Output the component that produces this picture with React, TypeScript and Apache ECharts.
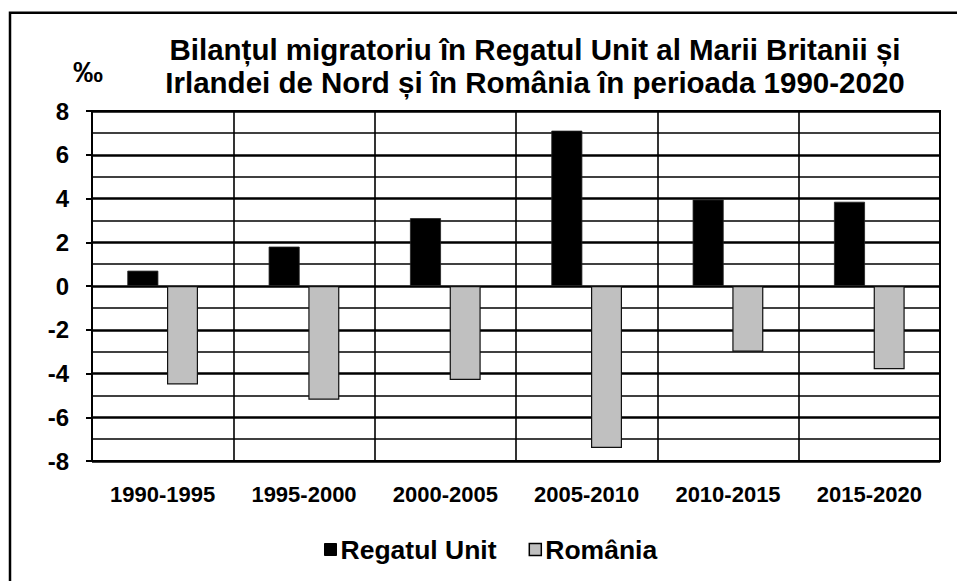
import React, { useEffect, useRef } from "react";
import * as echarts from "echarts";

const categories = ["1990-1995", "1995-2000", "2000-2005", "2005-2010", "2010-2015", "2015-2020"];
const ukValues = [0.7, 1.8, 3.1, 7.1, 3.95, 3.85];
const roValues = [-4.5, -5.2, -4.3, -7.4, -3.0, -3.8];
const seriesNames = ["Regatul Unit", "România"];
const titleText = "Bilanțul migratoriu în Regatul Unit al Marii Britanii și\nIrlandei de Nord și în România în perioada 1990-2020";
const unitText = "‰";

const FONT = '"Liberation Sans", Arial, sans-serif';

export default function App() {
  const ref = useRef<HTMLDivElement>(null);
  useEffect(() => {
    document.body.style.margin = "0";
    if (!ref.current) return;
    const chart = echarts.init(ref.current, null, { renderer: "svg" });
    chart.setOption({
      animation: false,
      backgroundColor: "#ffffff",
      textStyle: { fontFamily: FONT },
      title: {
        text: titleText,
        left: 530,
        top: 28,
        textAlign: "center",
        textStyle: { fontFamily: FONT, fontSize: 29.5, fontWeight: "bold", color: "#000", lineHeight: 33 },
      },
      graphic: [
        {
          type: "rect",
          shape: { x: 10, y: 12.8, width: 980, height: 600 },
          style: { fill: "none", stroke: "#000", lineWidth: 2.5 },
          silent: true,
        },
        {
          type: "text",
          x: 88,
          y: 71,
          style: {
            text: unitText,
            fontFamily: FONT,
            fontSize: 30,
            fontWeight: "bold",
            fill: "#000",
            align: "center",
            verticalAlign: "middle",
          },
        },
      ],
      legend: {
        data: [
          { name: seriesNames[0], itemStyle: { color: "#000", borderColor: "#000", borderWidth: 1 } },
          { name: seriesNames[1], itemStyle: { color: "#c0c0c0", borderColor: "#000", borderWidth: 1.5 } },
        ],
        left: 324,
        top: 536,
        icon: "rect",
        itemWidth: 12,
        itemHeight: 12,
        itemGap: 32,
        padding: 0,
        textStyle: { fontFamily: FONT, fontSize: 26.5, fontWeight: "bold", color: "#000", lineHeight: 26, padding: [0, 0, 0, -1] },
      },
      grid: {
        left: 92,
        right: 17,
        top: 111,
        bottom: 120,
        show: true,
        borderColor: "#000",
        borderWidth: 2,
        containLabel: false,
      },
      xAxis: {
        type: "category",
        data: categories,
        axisLine: { show: false },
        axisTick: { show: false },
        splitLine: { show: true, lineStyle: { color: "#000", width: 1.6 } },
        axisLabel: {
          margin: 22,
          fontFamily: FONT,
          fontSize: 22,
          fontWeight: "bold",
          color: "#000",
          interval: 0,
        },
      },
      yAxis: {
        type: "value",
        min: -8,
        max: 8,
        interval: 2,
        axisLine: { show: true, lineStyle: { color: "#000", width: 2 } },
        axisTick: { show: true, inside: false, length: 6, lineStyle: { color: "#000", width: 2 } },
        minorTick: { show: false, splitNumber: 2 },
        splitLine: { show: true, lineStyle: { color: "#000", width: 2.6 } },
        minorSplitLine: { show: true, lineStyle: { color: "#000", width: 1.5 } },
        axisLabel: {
          margin: 23,
          fontFamily: FONT,
          fontSize: 24,
          fontWeight: "bold",
          color: "#000",
        },
      },
      series: [
        {
          name: seriesNames[0],
          type: "bar",
          data: ukValues,
          barWidth: 31,
          barGap: "28%",
          itemStyle: { color: "#000", borderColor: "#222", borderWidth: 0.8 },
        },
        {
          name: seriesNames[1],
          type: "bar",
          data: roValues,
          barWidth: 31,
          barGap: "28%",
          itemStyle: { color: "#c0c0c0", borderColor: "#111", borderWidth: 1.2 },
        },
      ],
    });
    return () => chart.dispose();
  }, []);
  return <div ref={ref} style={{ width: 957, height: 581 }} />;
}
